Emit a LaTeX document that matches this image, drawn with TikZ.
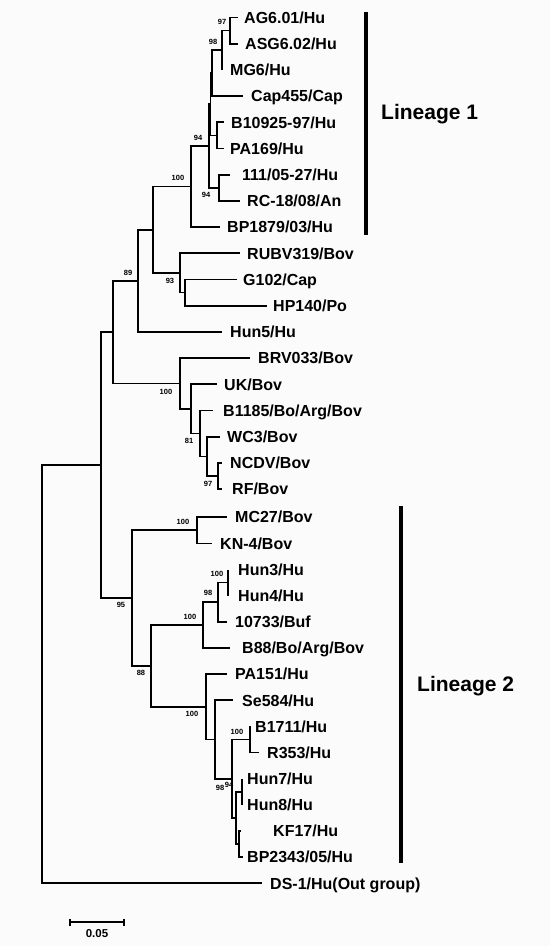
\documentclass[tikz,border=0pt]{standalone}
\usepackage{fontspec}
\setmainfont{Liberation Sans}
\definecolor{bg}{RGB}{251,251,251}
\begin{document}
\begin{tikzpicture}[x=1pt,y=-1pt,
  br/.style={line width=1.7pt, line join=miter},
  barline/.style={line width=3.5pt},
  lab/.style={anchor=west, inner sep=0pt, font=\fontsize{16}{16}\selectfont\bfseries, text height=11.5pt, text depth=0pt},
  bs/.style={inner sep=0pt, font=\fontsize{7.5}{7.5}\selectfont\bfseries},
  lin/.style={anchor=west, inner sep=0pt, font=\fontsize{21}{21}\selectfont\bfseries, text height=15pt, text depth=0pt},
  sbl/.style={inner sep=0pt, font=\fontsize{11.5}{11.5}\selectfont\bfseries}]
\fill[bg] (0,0) rectangle (550,946);
\useasboundingbox (0,0) rectangle (550,946);
\newcommand\leaf[5]{\coordinate (t#1) at (#2,#4); \node[lab] (l#1) at (#3,#4) {#5};}
% internal nodes
\coordinate (root) at (42,674.2);
\coordinate (A) at (101,465.15);
\coordinate (B) at (113,332.2);
\coordinate (C) at (138,280.85);
\coordinate (D) at (153,229.8);
\coordinate (L1) at (191,186.6);
\coordinate (E) at (209,146.05);
\coordinate (H) at (210.5,104.3);
\coordinate (G) at (212,73.2);
\coordinate (n98) at (222,50.25);
\coordinate (n97) at (230,30.6);
\coordinate (nPA) at (217,135.4);
\coordinate (n111) at (219,187.8);
\coordinate (n93) at (180,272.95);
\coordinate (nI) at (185,292.6);
\coordinate (J) at (180,383.5);
\coordinate (K) at (191,408.85);
\coordinate (L) at (200,433.4);
\coordinate (M) at (207,456.35);
\coordinate (N) at (218,476);
\coordinate (O) at (132,598.1);
\coordinate (P) at (197,530.3);
\coordinate (Q) at (151,665.95);
\coordinate (R) at (203,625.1);
\coordinate (S) at (218,602.2);
\coordinate (T) at (228,582.6);
\coordinate (U) at (206,706.8);
\coordinate (V) at (215,739.5);
\coordinate (W) at (232,778.7);
\coordinate (X) at (250,739.5);
\coordinate (Y) at (236,817.95);
\coordinate (Z) at (242,791.8);
\coordinate (KB) at (239,844.1);
% leaves
\leaf{AG}{238}{244}{17.5}{AG6.01/Hu}
\leaf{ASG}{238}{245}{43.7}{ASG6.02/Hu}
\leaf{MG}{222}{230}{69.9}{MG6/Hu}
\leaf{Cap}{243}{251}{96.1}{Cap455/Cap}
\leaf{Bten}{224}{231}{122.3}{B10925-97/Hu}
\leaf{PAa}{224}{230}{148.5}{PA169/Hu}
\leaf{Ooo}{230}{242}{174.7}{111/05-27/Hu}
\leaf{RC}{240}{247}{200.9}{RC-18/08/An}
\leaf{BPa}{220}{227}{227.1}{BP1879/03/Hu}
\leaf{RUBV}{240}{247}{253.3}{RUBV319/Bov}
\leaf{Gcap}{237}{243}{279.5}{G102/Cap}
\leaf{HP}{267}{273}{305.7}{HP140/Po}
\leaf{HunV}{222}{230}{331.9}{Hun5/Hu}
\leaf{BRV}{250}{258}{358.1}{BRV033/Bov}
\leaf{UK}{217}{224}{384.3}{UK/Bov}
\leaf{Bov}{213}{223}{410.5}{B1185/Bo/Arg/Bov}
\leaf{WC}{220}{227}{436.7}{WC3/Bov}
\leaf{NCDV}{222}{230}{462.9}{NCDV/Bov}
\leaf{RF}{222}{232}{489.1}{RF/Bov}
\leaf{MC}{227}{235}{517.2}{MC27/Bov}
\leaf{KN}{212}{220}{543.35}{KN-4/Bov}
\leaf{HunC}{228}{238}{569.5}{Hun3/Hu}
\leaf{HunD}{228}{238}{595.65}{Hun4/Hu}
\leaf{Buf}{227}{235}{621.8}{10733/Buf}
\leaf{Beight}{230}{242}{647.95}{B88/Bo/Arg/Bov}
\leaf{PAb}{227}{235}{674.1}{PA151/Hu}
\leaf{Se}{233}{242}{700.25}{Se584/Hu}
\leaf{Bseven}{250}{255}{726.4}{B1711/Hu}
\leaf{Rth}{259}{267}{752.55}{R353/Hu}
\leaf{HunG}{242}{247}{778.7}{Hun7/Hu}
\leaf{HunH}{242}{247}{804.85}{Hun8/Hu}
\leaf{KF}{241}{273}{831}{KF17/Hu}
\leaf{BPb}{243}{247}{857.15}{BP2343/05/Hu}
\leaf{DS}{262}{270}{883.3}{DS-1/Hu(Out group)}
% branches
\foreach \p/\c in {root/A, root/tDS, A/B, A/O, B/C, B/J, C/D, C/tHunV,
  D/L1, D/n93, L1/E, L1/tBPa, E/H, E/n111, H/G, H/nPA, G/n98, G/tCap,
  n98/n97, n98/tMG, n97/tAG, n97/tASG, nPA/tBten, nPA/tPAa, n111/tOoo, n111/tRC,
  n93/tRUBV, n93/nI, nI/tGcap, nI/tHP, J/tBRV, J/K, K/tUK, K/L, L/tBov, L/M,
  M/tWC, M/N, N/tNCDV, N/tRF, O/P, O/Q, P/tMC, P/tKN, Q/R, Q/U, R/S, R/tBeight,
  S/T, S/tBuf, T/tHunC, T/tHunD, U/tPAb, U/V, V/tSe, V/W, W/X, W/Y,
  X/tBseven, X/tRth, Y/Z, Y/KB, Z/tHunG, Z/tHunH, KB/tKF, KB/tBPb}
  \draw[br] (\p) |- (\c);
% bootstrap values
\node[bs] (b97a) at (222,22) {97};
\node[bs] (b98a) at (213,42) {98};
\node[bs] (b94a) at (198,138) {94};
\node[bs] (b100a) at (178,178) {100};
\node[bs] (b94b) at (206,195) {94};
\node[bs] (b89) at (128,273) {89};
\node[bs] (b93) at (170,281) {93};
\node[bs] (b100b) at (166,392) {100};
\node[bs] (b81) at (189,441) {81};
\node[bs] (b97b) at (208,484) {97};
\node[bs] (b100c) at (183,522) {100};
\node[bs] (b95) at (121,605) {95};
\node[bs] (b100d) at (217,574) {100};
\node[bs] (b98b) at (208,593) {98};
\node[bs] (b100e) at (190,617) {100};
\node[bs] (b88) at (141,673) {88};
\node[bs] (b100f) at (192,714) {100};
\node[bs] (b100g) at (237,732) {100};
\node[bs] (b98c) at (220,788) {98};
\node[bs] (b94c) at (229,785) {94};
% lineage bars
\coordinate (lina) at (366,12);
\coordinate (linb) at (366,235);
\draw[barline] (lina) -- (linb);
\node[lin] (lin1) at (381,112) {Lineage 1};
\coordinate (linc) at (401,506);
\coordinate (lind) at (401,863);
\draw[barline] (linc) -- (lind);
\node[lin] (lin2) at (417,684) {Lineage 2};
% scale bar
\coordinate (sba) at (70,922);
\coordinate (sbb) at (124,922);
\draw[line width=1.5pt] (sba) -- (sbb);
\draw[line width=1.5pt] (sba) ++(0,-3.5) -- ++(0,7);
\draw[line width=1.5pt] (sbb) ++(0,-3.5) -- ++(0,7);
\node[sbl] (sbt) at (97,934) {0.05};
\end{tikzpicture}
\end{document}
